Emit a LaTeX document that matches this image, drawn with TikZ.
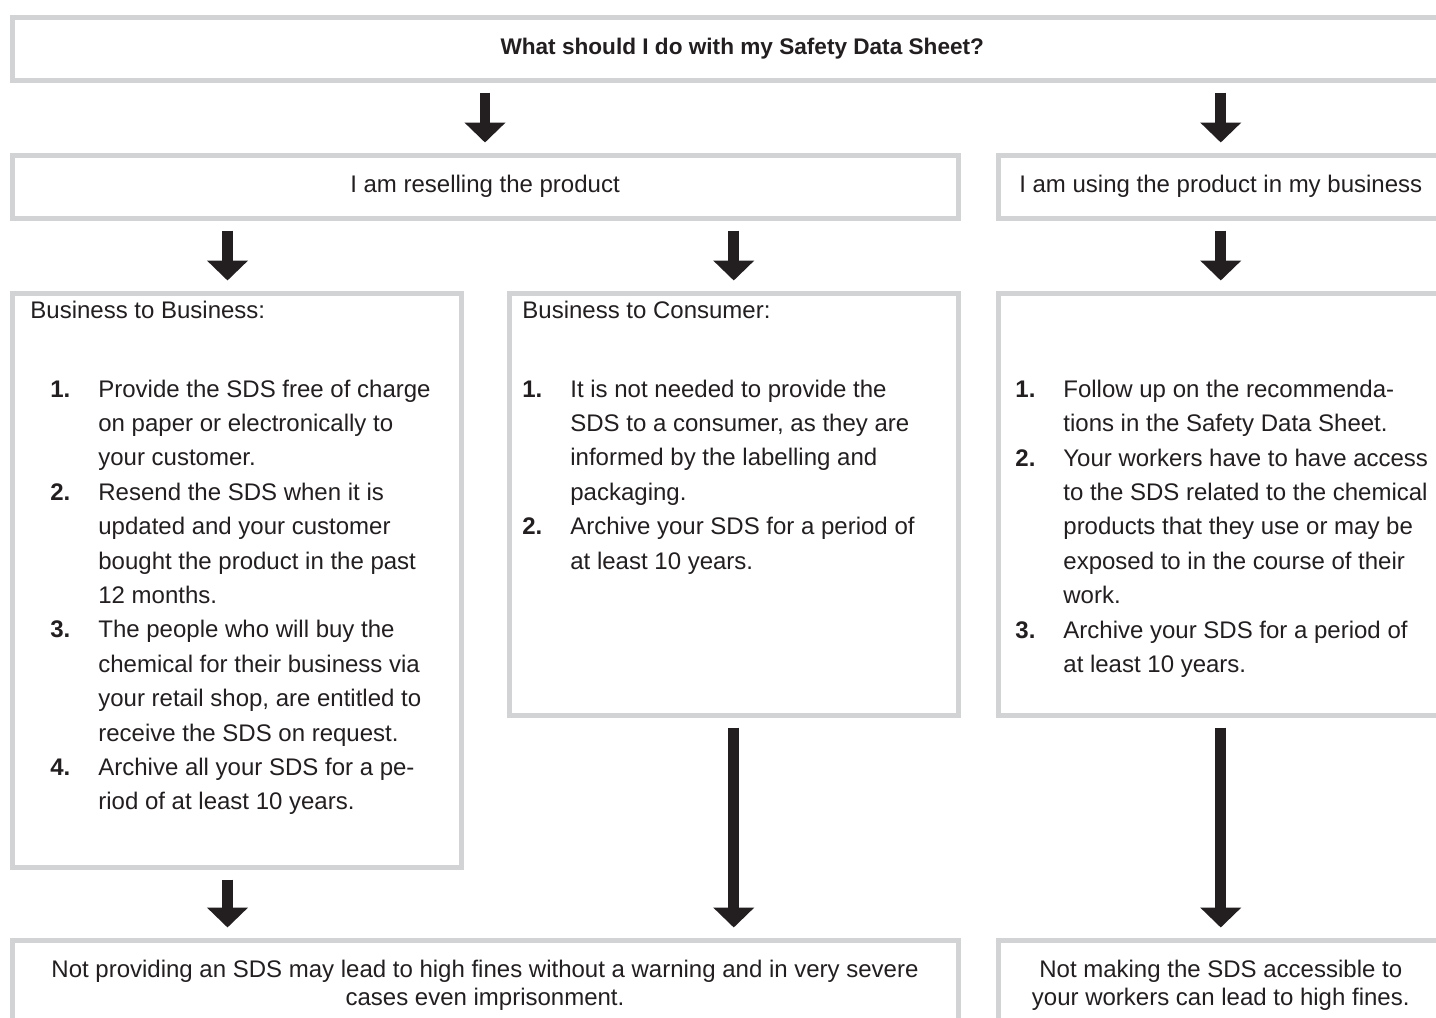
\documentclass[tikz,border=0pt]{standalone}
\usepackage{fontspec}
\setmainfont{Liberation Sans}
\usepackage{tikz}
\usetikzlibrary{arrows.meta}
\definecolor{boxgray}{HTML}{D1D3D4}
\definecolor{ink}{HTML}{231F20}
\tikzset{
  box/.style={draw=boxgray, line width=2.5pt, fill=white, inner sep=0pt,
    anchor=north west, text=ink, font=\fontsize{12}{14}\selectfont, align=center},
  txt/.style={inner sep=0pt, anchor=base west, text=ink,
    font=\fontsize{12}{17.2}\selectfont},
  flow/.style={draw=ink, line width=5.3pt, -{Triangle[width=20pt,length=10pt]},
    shorten <=5pt, shorten >=5pt}
}
\setlength{\parskip}{0pt}
\newcounter{sdsno}
\newenvironment{sdsitems}[1]{%
  \begin{list}{\textbf{\arabic{sdsno}.}}{\usecounter{sdsno}%
    \setlength{\leftmargin}{#1}\setlength{\labelwidth}{20pt}%
    \setlength{\labelsep}{4pt}\setlength{\itemsep}{0pt}%
    \setlength{\parsep}{0pt}\setlength{\topsep}{0pt}%
    \setlength{\partopsep}{0pt}%
    \renewcommand{\makelabel}[1]{##1\hfil}}}%
  {\end{list}}

\begin{document}
\begin{tikzpicture}[x=0.5pt,y=-0.5pt]
    \useasboundingbox (0,0) rectangle (1436,1018);
    \clip (0,0) rectangle (1436,1018);
    %boxes
    \node[box, minimum width=730.25pt, minimum height=31.5pt] (q) at (9.5,14.5)
        {\fontsize{11.3}{14}\selectfont\bfseries What should I do with my Safety Data Sheet?};
    \node[box, minimum width=473pt, minimum height=31.5pt] (resell) at (9.5,152.5)
        {I am reselling the product};
    \node[box, minimum width=222.75pt, minimum height=31.5pt] (use) at (995.5,152.5)
        {I am using the product in my business};
    \node[box, minimum width=224.5pt, minimum height=287pt] (b2b) at (9.5,290.5) {};
    \node[box, minimum width=224.25pt, minimum height=211pt] (b2c) at (507,290.5) {};
    \node[box, minimum width=222.75pt, minimum height=211pt] (work) at (995.5,290.5) {};
    \node[box, minimum width=473pt, minimum height=45.5pt] (fineA) at (9.5,937.5)
        {Not providing an SDS may lead to high fines without a warning and in very severe\\
         cases even imprisonment.};
    \node[box, minimum width=222.75pt, minimum height=45.5pt] (fineB) at (995.5,937.5)
        {Not making the SDS accessible to\\ your workers can lead to high fines.};
    %box texts
    \node[txt] (b2btxt) at (30,318) {\parbox[t]{213pt}{\raggedright
        Business to Business:\par\vspace{22.3pt}
        \begin{sdsitems}{34pt}
        \item Provide the SDS free of charge\\ on paper or electronically to\\ your customer.
        \item Resend the SDS when it is\\ updated and your customer\\ bought the product in the past\\ 12 months.
        \item The people who will buy the\\ chemical for their business via\\ your retail shop, are entitled to\\ receive the SDS on request.
        \item Archive all your SDS for a pe-\\riod of at least 10 years.
        \end{sdsitems}}};
    \node[txt] (b2ctxt) at (522,318) {\parbox[t]{212pt}{\raggedright
        Business to Consumer:\par\vspace{22.3pt}
        \begin{sdsitems}{24pt}
        \item It is not needed to provide the\\ SDS to a consumer, as they are\\ informed by the labelling and\\ packaging.
        \item Archive your SDS for a period of\\ at least 10 years.
        \end{sdsitems}}};
    \node[txt] (worktxt) at (1015,380) {\parbox[t]{212pt}{\raggedright
        \begin{sdsitems}{24pt}
        \item Follow up on the recommenda-\\tions in the Safety Data Sheet.
        \item Your workers have to have access\\ to the SDS related to the chemical\\ products that they use or may be\\ exposed to in the course of their\\ work.
        \item Archive your SDS for a period of\\ at least 10 years.
        \end{sdsitems}}};
    %arrows
    \coordinate (b2bin) at ([xshift=-4.5pt]b2b.north);
    \coordinate (b2bout) at ([xshift=-4.5pt]b2b.south);
    \draw[flow] (q.south -| resell.north) -- (resell.north);
    \draw[flow] (q.south -| use.north) -- (use.north);
    \draw[flow] (b2bin |- resell.south) -- (b2bin);
    \draw[flow] (resell.south -| b2c.north) -- (b2c.north);
    \draw[flow] (use.south) -- (work.north);
    \draw[flow] (b2bout) -- (b2bout |- fineA.north);
    \draw[flow] (b2c.south) -- (b2c.south |- fineA.north);
    \draw[flow] (work.south) -- (fineB.north);
\end{tikzpicture}
\end{document}
